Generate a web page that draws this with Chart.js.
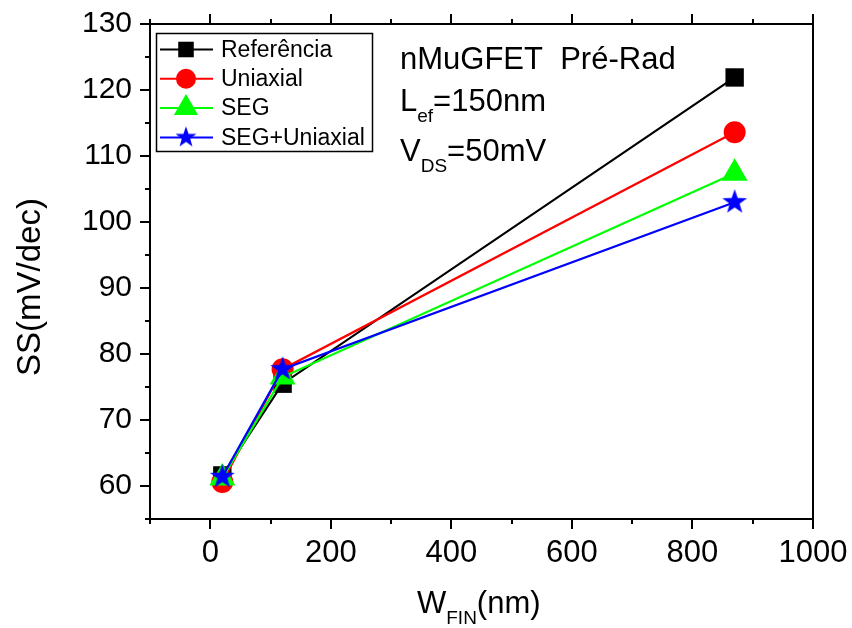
<!DOCTYPE html>
<html>
<head>
<meta charset="utf-8">
<script src="https://cdn.jsdelivr.net/npm/chart.js@4.4.1/dist/chart.umd.min.js"></script>
<style>
  html, body { margin: 0; padding: 0; background: #fff; }
  #wrap { width: 852px; height: 628px; }
</style>
</head>
<body>
<div id="wrap"><canvas id="chart" width="852" height="628"></canvas></div>
<script>
// W_FIN (nm)
const wFin = [20, 120, 870];
// SS (mV/dec)
const ssReferencia   = [61.6, 75.5, 121.9];
const ssUniaxial     = [60.6, 77.7, 113.6];
const ssSeg          = [61.2, 76.5, 107.4];
const ssSegUniaxial  = [61.4, 77.7, 103.0];

const seriesNames = ['Referência', 'Uniaxial', 'SEG', 'SEG+Uniaxial'];

const xTickLabels = ['0', '200', '400', '600', '800', '1000'];
const yTickLabels = ['60', '70', '80', '90', '100', '110', '120', '130'];

const FONT = "'Liberation Sans', Arial, Helvetica, sans-serif";

// five point star used as marker
function makeStar(R, color) {
    const c = document.createElement('canvas');
    const s = Math.ceil(R * 2 + 2);
    c.width = s; c.height = s;
    const g = c.getContext('2d');
    const cx = s / 2, cy = s / 2, r = R * 0.4;
    g.beginPath();
    for (let i = 0; i < 10; i++) {
        const rad = i % 2 === 0 ? R : r;
        const a = -Math.PI / 2 + i * Math.PI / 5;
        const px = cx + rad * Math.cos(a), py = cy + rad * Math.sin(a);
        if (i === 0) g.moveTo(px, py); else g.lineTo(px, py);
    }
    g.closePath();
    g.fillStyle = color;
    g.fill();
    return c;
}

const starBig = makeStar(13, '#0000ff');
const starSmall = makeStar(11, '#0000ff');

const toPts = (ys) => wFin.map((x, i) => ({ x: x, y: ys[i] }));

const styles = [
    { color: '#000000', pointStyle: 'rect', radius: 13, legendR: 11 },
    { color: '#ff0000', pointStyle: 'circle', radius: 11, legendR: 10 },
    { color: '#00ff00', pointStyle: 'triangle', radius: 15, legendR: 14 },
    { color: '#0000ff', pointStyle: starBig, radius: 13, legendImg: starSmall }
];
const allSeries = [ssReferencia, ssUniaxial, ssSeg, ssSegUniaxial];

const datasets = allSeries.map((ys, i) => ({
    label: seriesNames[i],
    data: toPts(ys),
    showLine: true,
    borderColor: styles[i].color,
    backgroundColor: styles[i].color,
    borderWidth: 2.2,
    pointStyle: styles[i].pointStyle,
    pointRadius: styles[i].radius,
    pointHoverRadius: styles[i].radius,
    pointBorderWidth: 0,
    order: 3 - i
}));

// frame, ticks, legend box, annotation, axis titles
const decorPlugin = {
    id: 'decor',
    afterDraw(chart) {
        const ctx = chart.ctx;
        const a = chart.chartArea;
        const xs = chart.scales.x, ys = chart.scales.y;
        ctx.save();
        ctx.strokeStyle = '#000';
        ctx.lineWidth = 2;
        ctx.strokeRect(a.left, a.top, a.right - a.left, a.bottom - a.top);

        // x ticks, bottom and top, outward
        for (let v = -100; v <= 1000; v += 100) {
            const px = Math.round(xs.getPixelForValue(v));
            const len = v % 200 === 0 ? 10 : 5;
            ctx.beginPath();
            ctx.moveTo(px, a.bottom); ctx.lineTo(px, a.bottom + len);
            ctx.moveTo(px, a.top); ctx.lineTo(px, a.top - len);
            ctx.stroke();
        }
        // y ticks, left, outward
        for (let v = 55; v <= 130; v += 5) {
            const py = Math.round(ys.getPixelForValue(v));
            const len = v % 10 === 0 ? 10 : 5;
            ctx.beginPath();
            ctx.moveTo(a.left, py); ctx.lineTo(a.left - len, py);
            ctx.stroke();
        }

        // legend
        ctx.lineWidth = 1.5;
        ctx.strokeRect(156.5, 33.5, 216, 118);
        ctx.font = '23px ' + FONT;
        ctx.textBaseline = 'middle';
        ctx.textAlign = 'left';
        seriesNames.forEach((name, i) => {
            const y = 49.5 + i * 29.3;
            const st = styles[i];
            ctx.strokeStyle = st.color;
            ctx.lineWidth = 2;
            ctx.beginPath();
            ctx.moveTo(160, y); ctx.lineTo(213, y);
            ctx.stroke();
            if (st.legendImg) {
                ctx.drawImage(st.legendImg, 186 - st.legendImg.width / 2, y - st.legendImg.height / 2);
            } else {
                ctx.fillStyle = st.color;
                Chart.helpers.drawPoint(ctx, { pointStyle: st.pointStyle, radius: st.legendR, borderWidth: 0, rotation: 0 }, 186, y);
            }
            ctx.fillStyle = '#000';
            ctx.fillText(name, 221, y + 1);
        });

        // annotation
        ctx.fillStyle = '#000';
        ctx.textBaseline = 'alphabetic';
        ctx.font = '31px ' + FONT;
        ctx.fillText('nMuGFET  Pré-Rad', 400, 69);
        const sub = (main, s, rest, x, y) => {
            ctx.font = '31px ' + FONT;
            ctx.fillText(main, x, y);
            x += ctx.measureText(main).width;
            ctx.font = '19px ' + FONT;
            ctx.fillText(s, x, y + 11);
            x += ctx.measureText(s).width;
            ctx.font = '31px ' + FONT;
            ctx.fillText(rest, x, y);
        };
        sub('L', 'ef', '=150nm', 400, 111);
        sub('V', 'DS', '=50mV', 400, 161);

        // x title
        ctx.font = '31px ' + FONT;
        let tx = 417;
        ctx.fillText('W', tx, 613);
        tx += ctx.measureText('W').width;
        ctx.font = '19px ' + FONT;
        ctx.fillText('FIN', tx, 624);
        tx += ctx.measureText('FIN').width;
        ctx.font = '31px ' + FONT;
        ctx.fillText('(nm)', tx, 613);

        // y title
        ctx.save();
        ctx.translate(40, 287);
        ctx.rotate(-Math.PI / 2);
        ctx.textAlign = 'center';
        ctx.font = '33px ' + FONT;
        ctx.fillText('SS(mV/dec)', 0, 0);
        ctx.restore();

        ctx.restore();
    }
};

new Chart(document.getElementById('chart'), {
    type: 'scatter',
    data: { datasets: datasets },
    options: {
        responsive: false,
        animation: false,
        devicePixelRatio: 1,
        layout: { padding: { left: 0, right: 39, top: 24, bottom: 0 } },
        plugins: { legend: { display: false }, tooltip: { enabled: false } },
        scales: {
            x: {
                type: 'linear', min: -100, max: 1000,
                grid: { display: false, drawTicks: false },
                border: { display: false },
                ticks: {
                    stepSize: 100, padding: 16, color: '#000', maxRotation: 0, autoSkip: false,
                    font: { family: FONT, size: 31 },
                    callback: (v) => xTickLabels.includes(String(v)) ? String(v) : ''
                },
                afterFit: (s) => { s.height = 109; s.paddingLeft = 0; s.paddingRight = 0; }
            },
            y: {
                type: 'linear', min: 55, max: 130,
                grid: { display: false, drawTicks: false },
                border: { display: false },
                ticks: {
                    stepSize: 5, padding: 18, color: '#000', autoSkip: false,
                    font: { family: FONT, size: 30 },
                    callback: (v) => yTickLabels.includes(String(v)) ? String(v) : ''
                },
                afterFit: (s) => { s.width = 150; s.paddingTop = 0; s.paddingBottom = 0; }
            }
        }
    },
    plugins: [decorPlugin]
});
</script>
</body>
</html>
